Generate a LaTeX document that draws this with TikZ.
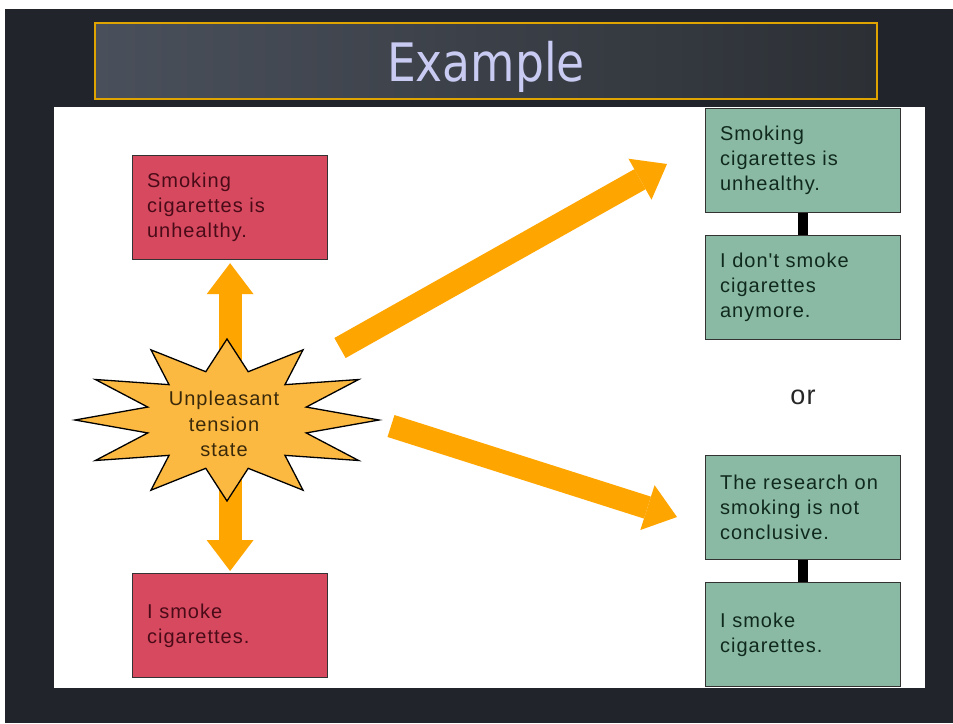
\documentclass[tikz,border=0pt]{standalone}
\usepackage{fontspec}
\setmainfont{Liberation Sans}
\newfontfamily\boxfont[LetterSpace=5]{Liberation Sans}
\newfontfamily\titlefont[FakeStretch=0.86]{DejaVu Sans}
\usetikzlibrary{positioning,arrows.meta}
\definecolor{slide}{HTML}{22242C}
\definecolor{barleft}{HTML}{4A505B}
\definecolor{barright}{HTML}{2C3035}
\definecolor{gold}{HTML}{E0A400}
\definecolor{titletext}{HTML}{C9CBF2}
\definecolor{badfill}{HTML}{D6495F}
\definecolor{badtext}{HTML}{4A0B18}
\definecolor{goodfill}{HTML}{8ABAA3}
\definecolor{goodtext}{HTML}{10291E}
\definecolor{arrowc}{HTML}{FFA500}
\definecolor{starfill}{HTML}{FCB942}
\definecolor{startext}{HTML}{3B2A0A}

\begin{document}
\begin{tikzpicture}[x=1pt, y=-1pt,
  box/.style={draw=black!80, line width=1.2pt, minimum height=104pt, text width=166pt,
    inner xsep=14.5pt, align=left, font=\boxfont\fontsize{20}{25}\selectfont},
  bad/.style={box, fill=badfill, text=badtext},
  good/.style={box, fill=goodfill, text=goodtext},
  fat/.style={color=arrowc, line width=23pt},
  >={Triangle[length=31pt, width=47pt, line width=0pt]}]
\useasboundingbox (0,0) rectangle (953,723);
\fill[white] (0,0) rectangle (953,723);
\fill[slide] (5,9) rectangle (953,723);
\node[draw=gold, line width=1.2pt, left color=barleft, right color=barright,
  minimum width=782pt, minimum height=76pt, text depth=0pt, text=titletext,
  font=\titlefont\fontsize{53}{60}\selectfont] (title) at (486,61) {Example};
\fill[white] (54,107) rectangle (925,688);

\node[bad, anchor=north west] (bad1) at (132,155) {Smoking\\cigarettes is\\unhealthy.};
\node[bad, anchor=north west] (bad2) at (132,573) {I smoke\\cigarettes.};
\node[good, anchor=north west] (good1) at (705,108) {Smoking\\cigarettes is\\unhealthy.};
\node[good, below=22pt of good1] (good2) {I don't smoke\\cigarettes\\anymore.};
\node[good, anchor=north west] (good3) at (705,455) {The research on\\smoking is not\\conclusive.};
\node[good, below=22pt of good3] (good4) {I smoke\\cigarettes.};
\node[font=\boxfont\fontsize{27}{30}\selectfont, text=black!85] (or) at (803,397) {or};
\draw[line width=10pt] (good1) -- (good2);
\draw[line width=10pt] (good3) -- (good4);

\coordinate (tail1) at (340,348);
\coordinate (tip1) at (667,164);
\coordinate (tail2) at (391,426);
\coordinate (tip2) at (677,517);
\path[->] (tail1) edge[fat] (tip1)
          (tail2) edge[fat] (tip2);
\path[<->] (bad1) edge[fat, shorten <=3pt, shorten >=2pt] (bad2);

\begin{scope}[shift={(227,420)}]
\filldraw[fill=starfill, draw=black, line width=1.3pt, line join=miter]
  (0:152 and 81) \foreach \a in {15,45,...,345} { -- (\a:82 and 50) -- (\a+15:152 and 81) } -- cycle;
\end{scope}
\node[align=center, text=startext, font=\boxfont\fontsize{20}{25.5}\selectfont] (tension) at (224,424) {Unpleasant\\tension\\state};
\end{tikzpicture}
\end{document}
